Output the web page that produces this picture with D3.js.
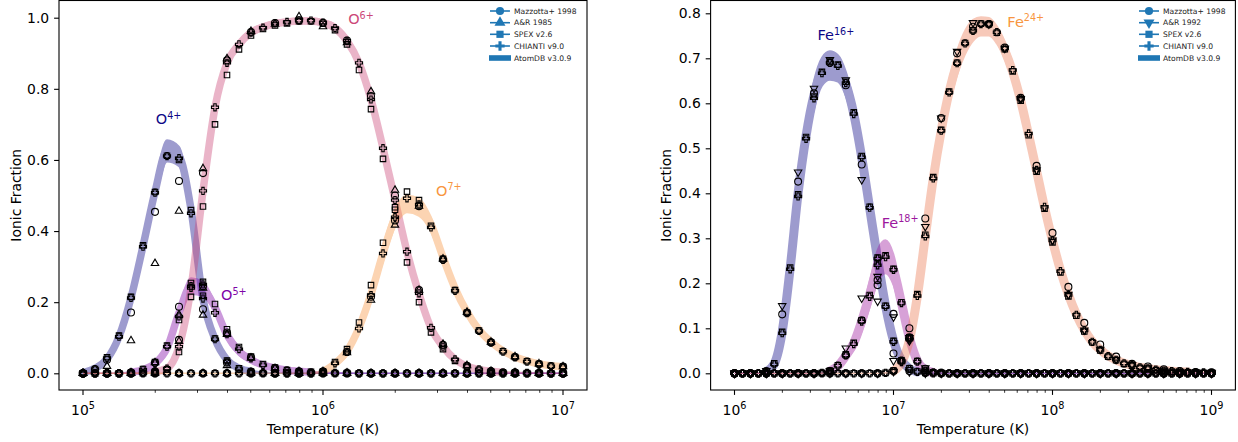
<!DOCTYPE html>
<html>
<head>
<meta charset="utf-8">
<script src="https://cdn.jsdelivr.net/npm/d3@7"></script>
<style>
  body { margin: 0; background: #fff; }
  svg { font-family: "DejaVu Sans", sans-serif; }
</style>
</head>
<body>
<svg id="chart" width="1238" height="442"></svg>
<script>
// ---------- temperature grids (log10 T) ----------
const logT_fine_O = [5.00,5.05,5.10,5.15,5.20,5.25,5.30,5.35,5.40,5.45,
  5.50,5.55,5.60,5.65,5.70,5.75,5.80,5.85,5.90,5.95,
  6.00,6.05,6.10,6.15,6.20,6.25,6.30,6.35,6.40,6.45,
  6.50,6.55,6.60,6.65,6.70,6.75,6.80,6.85,6.90,6.95,
  7.00];
const logT_coarse_O = [5.0,5.1,5.2,5.3,5.4,5.5,5.6,5.7,5.8,5.9,
  6.0,6.1,6.2,6.3,6.4,6.5,6.6,6.7,6.8,6.9,
  7.0];
const logT_fine_Fe = [6.00,6.05,6.10,6.15,6.20,6.25,6.30,6.35,6.40,6.45,
  6.50,6.55,6.60,6.65,6.70,6.75,6.80,6.85,6.90,6.95,
  7.00,7.05,7.10,7.15,7.20,7.25,7.30,7.35,7.40,7.45,
  7.50,7.55,7.60,7.65,7.70,7.75,7.80,7.85,7.90,7.95,
  8.00,8.05,8.10,8.15,8.20,8.25,8.30,8.35,8.40,8.45,
  8.50,8.55,8.60,8.65,8.70,8.75,8.80,8.85,8.90,8.95,
  9.00];
const logT_coarse_Fe = [6.0,6.1,6.2,6.3,6.4,6.5,6.6,6.7,6.8,6.9,
  7.0,7.1,7.2,7.3,7.4,7.5,7.6,7.7,7.8,7.9,
  8.0,8.1,8.2,8.3,8.4,8.5,8.6,8.7,8.8,8.9,
  9.0];

// ---------- oxygen ----------
const O4_chianti = [0.000,0.012,0.043,0.103,0.212,0.356,0.508,0.611,0.605,0.450,
  0.210,0.096,0.033,0.012,0.004,0.001,0,0,0,0,
  0,0,0,0,0,0,0,0,0,0,
  0,0,0,0,0,0,0,0,0,0,
  0];
const O4_spex = [0.000,0.012,0.045,0.106,0.215,0.360,0.510,0.612,0.600,0.459,
  0.218,0.098,0.036,0.014,0.005,0.001,0,0,0,0,
  0,0,0,0,0,0,0,0,0,0,
  0,0,0,0,0,0,0,0,0,0,
  0];
const O4_mazzotta = [0.000,0.038,0.171,0.454,0.541,0.180,0.030,0.004,0,0,
  0,0,0,0,0,0,0,0,0,0,
  0];
const O4_ar = [0.000,0.020,0.092,0.309,0.456,0.164,0.022,0.003,0,0,
  0,0,0,0,0,0,0,0,0,0,
  0];
const O4_atomdb_lo = [0.000,0.008,0.030,0.088,0.195,0.335,0.482,0.595,0.582,0.430,
  0.188,0.082,0.028,0.009,0.002,0,0,0,0,0,
  0,0,0,0,0,0,0,0,0,0,
  0,0,0,0,0,0,0,0,0,0,
  0];
const O4_atomdb_hi = [0.004,0.020,0.050,0.118,0.230,0.380,0.538,0.656,0.638,0.492,
  0.230,0.110,0.048,0.020,0.008,0.003,0.001,0,0,0,
  0,0,0,0,0,0,0,0,0,0,
  0,0,0,0,0,0,0,0,0,0,
  0];

const O5_chianti = [0,0,0,0,0.002,0.010,0.028,0.075,0.160,0.245,
  0.250,0.170,0.110,0.068,0.042,0.023,0.014,0.008,0.005,0.003,
  0.002,0.001,0.001,0,0,0,0,0,0,0,
  0,0,0,0,0,0,0,0,0,0,
  0];
const O5_spex = [0,0,0,0,0.002,0.012,0.032,0.078,0.150,0.254,
  0.257,0.195,0.124,0.074,0.047,0.026,0.016,0.009,0.006,0.004,
  0.002,0.001,0.001,0,0,0,0,0,0,0,
  0,0,0,0,0,0,0,0,0,0,
  0];
const O5_mazzotta = [0,0,0.002,0.030,0.187,0.245,0.115,0.045,0.015,0.005,
  0.002,0.001,0,0,0,0,0,0,0,0,
  0];
const O5_ar = [0,0,0.002,0.030,0.165,0.240,0.110,0.043,0.014,0.005,
  0.002,0.001,0,0,0,0,0,0,0,0,
  0];
const O5_atomdb_lo = [0,0,0,0,0.001,0.005,0.018,0.057,0.150,0.222,
  0.216,0.170,0.094,0.050,0.030,0.016,0.010,0.005,0.003,0.001,
  0,0,0,0,0,0,0,0,0,0,
  0,0,0,0,0,0,0,0,0,0,
  0];
const O5_atomdb_hi = [0,0,0,0,0.005,0.015,0.037,0.085,0.190,0.268,
  0.258,0.200,0.122,0.074,0.046,0.030,0.020,0.012,0.008,0.005,
  0.003,0.002,0.001,0,0,0,0,0,0,0,
  0,0,0,0,0,0,0,0,0,0,
  0];

const O6_chianti = [0,0,0,0,0,0.001,0.005,0.013,0.075,0.240,
  0.513,0.748,0.873,0.925,0.958,0.972,0.984,0.988,0.992,0.992,
  0.986,0.971,0.935,0.873,0.770,0.633,0.487,0.342,0.225,0.128,
  0.075,0.039,0.020,0.011,0.006,0.003,0.002,0.001,0.001,0,
  0];
const O6_spex = [0,0,0,0,0,0.001,0.004,0.011,0.060,0.215,
  0.469,0.700,0.839,0.911,0.950,0.968,0.978,0.984,0.990,0.990,
  0.983,0.965,0.925,0.853,0.743,0.603,0.467,0.312,0.200,0.115,
  0.068,0.035,0.018,0.010,0.005,0.003,0.002,0.001,0.001,0,
  0];
const O6_mazzotta = [0,0,0,0.005,0.094,0.563,0.880,0.960,0.985,0.993,
  0.986,0.936,0.780,0.500,0.234,0.080,0.021,0.006,0.002,0.001,
  0];
const O6_ar = [0,0,0,0.004,0.090,0.576,0.885,0.962,0.982,1.003,
  0.975,0.930,0.792,0.515,0.234,0.082,0.022,0.006,0.002,0.001,
  0];
const O6_atomdb_lo = [0,0,0,0,0,0,0.002,0.008,0.060,0.215,
  0.490,0.730,0.860,0.915,0.948,0.965,0.975,0.980,0.983,0.983,
  0.977,0.960,0.922,0.858,0.752,0.612,0.465,0.322,0.207,0.115,
  0.065,0.032,0.015,0.007,0.003,0.001,0,0,0,0,
  0];
const O6_atomdb_hi = [0,0,0,0,0,0.002,0.008,0.020,0.090,0.265,
  0.535,0.765,0.885,0.935,0.968,0.982,0.992,0.996,0.999,0.999,
  0.994,0.982,0.948,0.888,0.788,0.655,0.510,0.362,0.240,0.140,
  0.085,0.046,0.025,0.014,0.008,0.005,0.003,0.002,0.001,0,
  0];

const O7_chianti = [0,0,0,0,0,0,0,0,0,0,
  0,0,0,0,0,0,0,0,0,0,
  0.005,0.028,0.060,0.126,0.220,0.337,0.439,0.492,0.475,0.410,
  0.319,0.232,0.169,0.119,0.086,0.061,0.045,0.033,0.025,0.020,
  0.017];
const O7_spex = [0,0,0,0,0,0,0,0,0,0,
  0,0,0,0,0,0,0,0,0,0,
  0.006,0.032,0.068,0.143,0.248,0.367,0.460,0.511,0.487,0.415,
  0.322,0.234,0.170,0.120,0.087,0.062,0.046,0.034,0.026,0.021,
  0.018];
const O7_mazzotta = [0,0,0,0,0,0,0,0,0,0,
  0.005,0.060,0.215,0.430,0.470,0.320,0.170,0.087,0.046,0.026,
  0.019];
const O7_ar = [0,0,0,0,0,0,0,0,0,0,
  0.005,0.058,0.206,0.417,0.470,0.322,0.172,0.088,0.047,0.027,
  0.019];
const O7_atomdb_lo = [0,0,0,0,0,0,0,0,0,0,
  0,0,0,0,0,0,0,0,0,0,
  0.001,0.020,0.050,0.112,0.200,0.312,0.410,0.452,0.442,0.397,
  0.308,0.224,0.160,0.112,0.080,0.056,0.040,0.030,0.022,0.017,
  0.014];
const O7_atomdb_hi = [0,0,0,0,0,0,0,0,0,0,
  0,0,0,0,0,0,0,0,0,0.001,
  0.008,0.035,0.075,0.145,0.245,0.362,0.462,0.500,0.492,0.440,
  0.345,0.255,0.185,0.132,0.096,0.070,0.052,0.040,0.031,0.025,
  0.022];

// ---------- iron ----------
const Fe16_chianti = [0,0,0,0,0.003,0.020,0.089,0.231,0.393,0.521,
  0.611,0.667,0.690,0.683,0.645,0.576,0.480,0.368,0.255,0.148,
  0.070,0.028,0.010,0.003,0.001,0,0,0,0,0,
  0,0,0,0,0,0,0,0,0,0,
  0,0,0,0,0,0,0,0,0,0,
  0,0,0,0,0,0,0,0,0,0,
  0];
const Fe16_spex = [0,0,0,0,0.004,0.022,0.092,0.235,0.398,0.525,
  0.615,0.670,0.693,0.686,0.648,0.580,0.483,0.370,0.257,0.150,
  0.072,0.029,0.011,0.004,0.001,0,0,0,0,0,
  0,0,0,0,0,0,0,0,0,0,
  0,0,0,0,0,0,0,0,0,0,
  0,0,0,0,0,0,0,0,0,0,
  0];
const Fe16_mazzotta = [0,0,0.005,0.131,0.426,0.622,0.690,0.640,0.464,0.207,
  0.044,0.005,0.001,0,0,0,0,0,0,0,
  0,0,0,0,0,0,0,0,0,0,
  0];
const Fe16_ar = [0,0,0.006,0.150,0.447,0.633,0.697,0.652,0.430,0.160,
  0.028,0.003,0,0,0,0,0,0,0,0,
  0,0,0,0,0,0,0,0,0,0,
  0];
const Fe16_atomdb_lo = [0,0,0,0,0.001,0.012,0.075,0.205,0.370,0.495,
  0.585,0.638,0.652,0.648,0.615,0.548,0.452,0.340,0.228,0.128,
  0.058,0.020,0.006,0.001,0,0,0,0,0,0,
  0,0,0,0,0,0,0,0,0,0,
  0,0,0,0,0,0,0,0,0,0,
  0,0,0,0,0,0,0,0,0,0,
  0];
const Fe16_atomdb_hi = [0,0,0,0,0.006,0.030,0.110,0.262,0.430,0.560,
  0.652,0.702,0.716,0.708,0.672,0.605,0.508,0.395,0.280,0.172,
  0.088,0.038,0.015,0.005,0.001,0,0,0,0,0,
  0,0,0,0,0,0,0,0,0,0,
  0,0,0,0,0,0,0,0,0,0,
  0,0,0,0,0,0,0,0,0,0,
  0];

const Fe18_chianti = [0,0,0,0,0,0,0,0,0,0,
  0,0.001,0.005,0.017,0.040,0.065,0.115,0.170,0.240,0.258,
  0.230,0.156,0.078,0.026,0.006,0.002,0.001,0,0,0,
  0,0,0,0,0,0,0,0,0,0,
  0,0,0,0,0,0,0,0,0,0,
  0,0,0,0,0,0,0,0,0,0,
  0];
const Fe18_spex = [0,0,0,0,0,0,0,0,0,0,
  0,0.001,0.006,0.018,0.042,0.068,0.118,0.174,0.244,0.262,
  0.232,0.158,0.080,0.027,0.006,0.002,0.001,0,0,0,
  0,0,0,0,0,0,0,0,0,0,
  0,0,0,0,0,0,0,0,0,0,
  0,0,0,0,0,0,0,0,0,0,
  0];
const Fe18_mazzotta = [0,0,0,0,0,0,0.004,0.040,0.118,0.196,
  0.132,0.100,0.010,0.001,0,0,0,0,0,0,
  0,0,0,0,0,0,0,0,0,0,
  0];
const Fe18_ar = [0,0,0,0,0,0,0.006,0.056,0.167,0.215,
  0.125,0.079,0.012,0.001,0,0,0,0,0,0,
  0,0,0,0,0,0,0,0,0,0,
  0];
const Fe18_atomdb_lo = [0,0,0,0,0,0,0,0,0,0,
  0,0,0.002,0.010,0.028,0.052,0.092,0.145,0.200,0.222,
  0.195,0.128,0.060,0.017,0.003,0,0,0,0,0,
  0,0,0,0,0,0,0,0,0,0,
  0,0,0,0,0,0,0,0,0,0,
  0,0,0,0,0,0,0,0,0,0,
  0];
const Fe18_atomdb_hi = [0,0,0,0,0,0,0,0,0,0,
  0,0.002,0.008,0.022,0.050,0.082,0.140,0.205,0.275,0.296,
  0.265,0.185,0.098,0.038,0.012,0.004,0.001,0,0,0,
  0,0,0,0,0,0,0,0,0,0,
  0,0,0,0,0,0,0,0,0,0,
  0,0,0,0,0,0,0,0,0,0,
  0];

const Fe24_chianti = [0,0,0,0,0,0,0,0,0,0,
  0,0,0,0,0,0,0,0,0,0.001,
  0.005,0.025,0.075,0.172,0.304,0.433,0.539,0.624,0.689,0.733,
  0.761,0.776,0.776,0.758,0.722,0.674,0.610,0.533,0.452,0.370,
  0.295,0.227,0.174,0.130,0.095,0.070,0.052,0.038,0.030,0.022,
  0.018,0.013,0.011,0.008,0.006,0.005,0.004,0.003,0.002,0.002,
  0.001];
const Fe24_spex = [0,0,0,0,0,0,0,0,0,0,
  0,0,0,0,0,0,0,0,0,0.001,
  0.006,0.027,0.078,0.176,0.308,0.436,0.541,0.626,0.690,0.734,
  0.762,0.777,0.776,0.757,0.720,0.671,0.606,0.529,0.448,0.366,
  0.291,0.224,0.171,0.128,0.093,0.069,0.051,0.037,0.029,0.021,
  0.017,0.012,0.010,0.007,0.005,0.004,0.003,0.002,0.002,0.001,
  0.001];
const Fe24_mazzotta = [0,0,0,0,0,0,0,0,0,0,
  0.005,0.080,0.344,0.567,0.711,0.770,0.776,0.724,0.612,0.461,
  0.312,0.192,0.112,0.064,0.037,0.021,0.015,0.009,0.005,0.003,
  0.002];
const Fe24_ar = [0,0,0,0,0,0,0,0,0,0,
  0.004,0.072,0.326,0.567,0.715,0.779,0.776,0.722,0.610,0.452,
  0.296,0.175,0.096,0.053,0.031,0.019,0.012,0.007,0.004,0.003,
  0.002];
const Fe24_atomdb_lo = [0,0,0,0,0,0,0,0,0,0,
  0,0,0,0,0,0,0,0,0,0,
  0.002,0.015,0.055,0.145,0.272,0.400,0.508,0.596,0.662,0.708,
  0.738,0.750,0.750,0.732,0.697,0.648,0.584,0.507,0.427,0.347,
  0.274,0.210,0.158,0.117,0.085,0.061,0.045,0.033,0.025,0.018,
  0.014,0.010,0.008,0.006,0.004,0.003,0.002,0.002,0.001,0.001,
  0.001];
const Fe24_atomdb_hi = [0,0,0,0,0,0,0,0,0,0,
  0,0,0,0,0,0,0,0,0,0.002,
  0.008,0.032,0.092,0.198,0.335,0.465,0.570,0.655,0.718,0.762,
  0.786,0.792,0.790,0.772,0.738,0.690,0.628,0.552,0.472,0.390,
  0.316,0.248,0.192,0.145,0.108,0.080,0.060,0.045,0.035,0.027,
  0.021,0.016,0.013,0.010,0.008,0.006,0.005,0.004,0.003,0.003,
  0.002];

// ---------- ticks & legend text ----------
const yTicks_O = [0.0, 0.2, 0.4, 0.6, 0.8, 1.0];
const yTicks_Fe = [0.0, 0.1, 0.2, 0.3, 0.4, 0.5, 0.6, 0.7, 0.8];
const xDecades_O = [5, 6, 7];
const xDecades_Fe = [6, 7, 8, 9];
const legend_O = ["Mazzotta+ 1998", "A&R 1985", "SPEX v2.6", "CHIANTI v9.0", "AtomDB v3.0.9"];
const legend_Fe = ["Mazzotta+ 1998", "A&R 1992", "SPEX v2.6", "CHIANTI v9.0", "AtomDB v3.0.9"];

const svg = d3.select('#chart');
const FS = 13.9;
const legendBlue = '#1f77b4';

function drawPanel(cfg) {
    const g = svg.append('g');

    const x = d3.scaleLog().domain(cfg.xDom).range(cfg.xRange);
    const y = d3.scaleLinear().domain(cfg.yDom).range(cfg.yRange);
    const px = t => x(Math.pow(10, t));

    // AtomDB bands (area + a thick mid line, one alpha for the whole group)
    cfg.ions.forEach(ion => {
        const pts = cfg.fine.map((t, i) => ({t: t, lo: ion.lo[i], hi: ion.hi[i]}));
        const bg = g.append('g').attr('opacity', 0.4);
        const area = d3.area()
            .x(d => px(d.t)).y0(d => y(d.lo)).y1(d => y(d.hi))
            .curve(d3.curveMonotoneX);
        bg.append('path')
            .attr('d', area(pts))
            .attr('fill', ion.band)
            .attr('stroke', ion.band)
            .attr('stroke-width', 1.5);
        const mid = d3.line()
            .defined(d => d.hi > 0.003)
            .x(d => px(d.t)).y(d => y((d.lo + d.hi) / 2))
            .curve(d3.curveMonotoneX);
        bg.append('path')
            .attr('d', mid(pts))
            .attr('fill', 'none')
            .attr('stroke', ion.band)
            .attr('stroke-width', cfg.bandWidth)
            .attr('stroke-linecap', 'round');
    });

    // markers from the other codes
    const symbols = [
        {key: 'maz', grid: cfg.coarse, type: d3.symbolCircle, size: 38, rot: 0},
        {key: 'ar', grid: cfg.coarse, type: d3.symbolTriangle, size: 24, rot: cfg.triRot},
        {key: 'spex', grid: cfg.fine, type: d3.symbolSquare, size: 30, rot: 0},
        {key: 'chianti', grid: cfg.fine, type: d3.symbolCross, size: 28, rot: 0}
    ];
    cfg.ions.forEach(ion => {
        symbols.forEach(s => {
            const vals = ion[s.key];
            g.append('g').selectAll('path')
                .data(s.grid.map((t, i) => ({t: t, v: vals[i]})))
                .enter().append('path')
                .attr('d', d3.symbol().type(s.type).size(s.size))
                .attr('transform', d => `translate(${px(d.t)},${y(d.v)}) rotate(${s.rot})`)
                .attr('fill', 'none')
                .attr('stroke', '#000')
                .attr('stroke-width', 1.1);
        });
    });

    // ion labels
    cfg.ions.forEach(ion => {
        const t = g.append('text')
            .attr('x', px(ion.labelAt[0]))
            .attr('y', y(ion.labelAt[1]))
            .attr('fill', ion.color)
            .attr('font-size', 14.5)
            .text(ion.name);
        t.append('tspan')
            .attr('dy', -5.5)
            .attr('font-size', 9.6)
            .text(ion.charge);
    });

    // frame
    const [L, R] = cfg.frameX;
    const [T, B] = cfg.frameY;
    g.append('rect')
        .attr('x', L).attr('y', T)
        .attr('width', R - L).attr('height', B - T)
        .attr('fill', 'none').attr('stroke', '#000').attr('stroke-width', 1.1);

    // y axis
    const yAxis = g.append('g')
        .attr('transform', `translate(${L},0)`)
        .call(d3.axisLeft(y).tickValues(cfg.yTicks).tickSize(4.9).tickPadding(4.9)
            .tickFormat(d3.format('.1f')));
    yAxis.select('.domain').remove();
    yAxis.selectAll('line').attr('stroke-width', 1.1);
    yAxis.selectAll('text').attr('font-size', FS).attr('font-family', 'DejaVu Sans').attr('fill', '#000');

    // x axis (log): minor + major ticks
    const minor = x.ticks().filter(v => !cfg.decades.includes(Math.round(Math.log10(v) * 1000) / 1000));
    g.append('g').selectAll('line')
        .data(minor).enter().append('line')
        .attr('x1', d => x(d)).attr('x2', d => x(d))
        .attr('y1', B).attr('y2', B + 2.8)
        .attr('stroke', '#000').attr('stroke-width', 0.8);
    const major = g.append('g').selectAll('g')
        .data(cfg.decades).enter().append('g')
        .attr('transform', d => `translate(${px(d)},${B})`);
    major.append('line')
        .attr('y2', 4.9).attr('stroke', '#000').attr('stroke-width', 1.1);
    const lab = major.append('text')
        .attr('y', 25)
        .attr('text-anchor', 'middle')
        .attr('font-size', FS)
        .text('10');
    lab.append('tspan')
        .attr('dy', -6)
        .attr('font-size', 9.7)
        .text(d => d);

    // axis titles
    g.append('text')
        .attr('x', (L + R) / 2).attr('y', 434)
        .attr('text-anchor', 'middle')
        .attr('font-size', FS)
        .text('Temperature (K)');
    g.append('text')
        .attr('transform', `translate(${cfg.yTitleX},${(T + B) / 2}) rotate(-90)`)
        .attr('text-anchor', 'middle')
        .attr('font-size', FS)
        .text('Ionic Fraction');

    // legend
    const lg = g.append('g');
    const rowsY = [11, 22.7, 34.3, 46, 58];
    const legSyms = [d3.symbolCircle, d3.symbolTriangle, d3.symbolSquare, d3.symbolCross];
    cfg.legend.forEach((name, i) => {
        const cy = rowsY[i];
        if (i < 4) {
            lg.append('line')
                .attr('x1', cfg.legX - 10).attr('x2', cfg.legX + 10)
                .attr('y1', cy).attr('y2', cy)
                .attr('stroke', legendBlue).attr('stroke-width', 1.6);
            lg.append('path')
                .attr('d', d3.symbol().type(legSyms[i]).size(i === 3 ? 48 : 52))
                .attr('transform', `translate(${cfg.legX},${cy}) rotate(${i === 1 ? cfg.triRot : 0})`)
                .attr('fill', legendBlue);
        } else {
            lg.append('rect')
                .attr('x', cfg.legX - 11).attr('y', cy - 2.8)
                .attr('width', 22).attr('height', 5.6)
                .attr('fill', legendBlue);
        }
        lg.append('text')
            .attr('x', cfg.legX + 14).attr('y', cy + 2.7)
            .attr('font-size', 7.6)
            .attr('fill', '#222')
            .text(name);
    });
}

// left panel: oxygen
drawPanel({
    fine: logT_fine_O, coarse: logT_coarse_O,
    xDom: [1e5, 1e7], xRange: [83, 563],
    yDom: [0, 1], yRange: [373.3, 17.7],
    frameX: [59, 587], frameY: [0.5, 390],
    yTicks: yTicks_O, decades: xDecades_O,
    yTitleX: 21, legX: 500, legend: legend_O, triRot: 0, bandWidth: 7.5,
    ions: [
        {name: 'O', charge: '4+', color: '#0d0887', band: '#0d0887', labelAt: [5.303, 0.701],
         maz: O4_mazzotta, ar: O4_ar, spex: O4_spex, chianti: O4_chianti, lo: O4_atomdb_lo, hi: O4_atomdb_hi},
        {name: 'O', charge: '5+', color: '#7e03a8', band: '#7e03a8', labelAt: [5.575, 0.206],
         maz: O5_mazzotta, ar: O5_ar, spex: O5_spex, chianti: O5_chianti, lo: O5_atomdb_lo, hi: O5_atomdb_hi},
        {name: 'O', charge: '6+', color: '#cc4778', band: '#cc4778', labelAt: [6.105, 0.982],
         maz: O6_mazzotta, ar: O6_ar, spex: O6_spex, chianti: O6_chianti, lo: O6_atomdb_lo, hi: O6_atomdb_hi},
        {name: 'O', charge: '7+', color: '#f89540', band: '#f89540', labelAt: [6.471, 0.499],
         maz: O7_mazzotta, ar: O7_ar, spex: O7_spex, chianti: O7_chianti, lo: O7_atomdb_lo, hi: O7_atomdb_hi}
    ]
});

// right panel: iron
drawPanel({
    fine: logT_fine_Fe, coarse: logT_coarse_Fe,
    xDom: [1e6, 1e9], xRange: [734.5, 1211.5],
    yDom: [0, 0.8], yRange: [373.3, 13.3],
    frameX: [710.6, 1235.4], frameY: [0.5, 390],
    yTicks: yTicks_Fe, decades: xDecades_Fe,
    yTitleX: 671, legX: 1149, legend: legend_Fe, triRot: 180, bandWidth: 9,
    ions: [
        {name: 'Fe', charge: '16+', color: '#0d0887', band: '#0d0887', labelAt: [6.522, 0.74],
         maz: Fe16_mazzotta, ar: Fe16_ar, spex: Fe16_spex, chianti: Fe16_chianti, lo: Fe16_atomdb_lo, hi: Fe16_atomdb_hi},
        {name: 'Fe', charge: '18+', color: '#9c179e', band: '#9c179e', labelAt: [6.926, 0.3235],
         maz: Fe18_mazzotta, ar: Fe18_ar, spex: Fe18_spex, chianti: Fe18_chianti, lo: Fe18_atomdb_lo, hi: Fe18_atomdb_hi},
        {name: 'Fe', charge: '24+', color: '#f89540', band: '#ed7953', labelAt: [7.716, 0.770],
         maz: Fe24_mazzotta, ar: Fe24_ar, spex: Fe24_spex, chianti: Fe24_chianti, lo: Fe24_atomdb_lo, hi: Fe24_atomdb_hi}
    ]
});
</script>
</body>
</html>
